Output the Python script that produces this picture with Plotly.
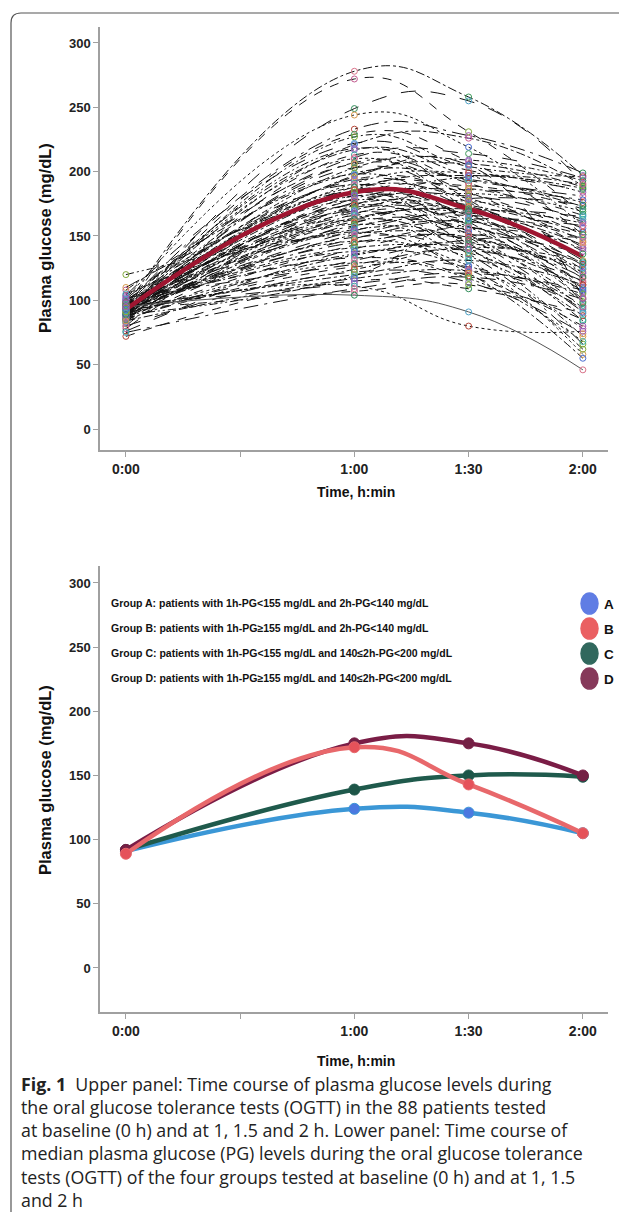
import plotly.graph_objects as go

# The page body has an 8px margin, so the figure is offset by 8px and
# every pixel position below is given in window pixels and shifted back.
OFF = 8
WIN_W, WIN_H = 627, 1212
W, H = WIN_W - OFF, WIN_H

# ---------------- data ----------------
times = [0, 60, 90, 120]
tick_vals = [0, 30, 60, 90, 120]
tick_text = ["0:00", "", "1:00", "1:30", "2:00"]
y_ticks = [0, 50, 100, 150, 200, 250, 300]

# upper panel: 88 patients, plasma glucose (mg/dL) at 0 h, 1 h, 1.5 h, 2 h
glucose_0h = [95, 92, 88, 101, 97, 90, 85, 104, 93, 89, 96, 82, 101, 94, 87, 99, 91, 86, 108, 93,
              90, 95, 84, 97, 92, 88, 103, 80, 94, 90, 96, 86, 110, 91, 93, 89, 98, 85, 92, 100,
              88, 94, 78, 95, 90, 97, 87, 92, 105, 89, 93, 84, 96, 91, 88, 99, 86, 94, 90, 120,
              92, 83, 95, 89, 97, 87, 93, 76, 91, 98, 85, 94, 90, 88, 102, 86, 92, 80, 95, 89,
              84, 72, 96, 91, 75, 93, 95, 100]
glucose_1h = [278, 272, 249, 244, 233, 229, 227, 222, 221, 218, 217, 213, 211, 210, 207, 206, 203, 203, 199, 198,
              197, 194, 193, 191, 190, 188, 188, 186, 186, 184, 184, 182, 181, 181, 179, 178, 178, 176, 175, 174,
              174, 172, 171, 170, 169, 168, 167, 166, 164, 163, 163, 161, 160, 159, 158, 157, 155, 154, 153, 152,
              151, 149, 148, 146, 145, 143, 141, 140, 138, 136, 135, 133, 131, 129, 128, 126, 124, 122, 120, 119,
              117, 115, 113, 111, 109, 107, 104, 196]
glucose_1h30 = [258, 231, 255, 219, 228, 208, 204, 201, 226, 178, 197, 191, 214, 171, 193, 184, 209, 176, 194, 161,
                206, 183, 172, 199, 149, 187, 179, 164, 197, 141, 174, 189, 167, 157, 186, 173, 151, 181, 166, 196,
                144, 169, 159, 183, 136, 162, 177, 152, 171, 139, 168, 154, 179, 131, 157, 166, 146, 169, 121, 149,
                161, 137, 163, 127, 148, 156, 134, 151, 124, 144, 141, 119, 147, 117, 139, 126, 141, 114, 131, 157,
                123, 109, 121, 80, 118, 112, 91, 205]
glucose_2h = [197, 167, 191, 158, 199, 151, 196, 186, 189, 121, 173, 161, 195, 109, 181, 141, 193, 131, 176, 101,
              188, 151, 127, 184, 91, 166, 146, 117, 187, 72, 153, 171, 124, 106, 178, 138, 94, 163, 119, 190,
              84, 148, 112, 169, 66, 129, 156, 107, 160, 93, 143, 114, 174, 58, 128, 151, 99, 165, 55, 122,
              140, 96, 158, 78, 118, 145, 88, 136, 62, 125, 110, 80, 149, 68, 115, 95, 130, 74, 112, 98,
              105, 90, 108, 76, 101, 85, 46, 102]
median_all = [93, 184, 171, 134]

# lower panel: median PG of the four groups
group_names = ["A", "B", "C", "D"]
group_texts = [
    "Group A: patients with 1h-PG&lt;155 mg/dL and 2h-PG&lt;140 mg/dL",
    "Group B: patients with 1h-PG\u2265155 mg/dL and 2h-PG&lt;140 mg/dL",
    "Group C: patients with 1h-PG&lt;155 mg/dL and 140\u22642h-PG&lt;200 mg/dL",
    "Group D: patients with 1h-PG\u2265155 mg/dL and 140\u22642h-PG&lt;200 mg/dL",
]
group_A = [91, 124, 121, 105]
group_B = [89, 172, 143, 105]
group_C = [92, 139, 150, 149]
group_D = [92, 175, 175, 150]

caption = ("<b>Fig. 1</b>  Upper panel: Time course of plasma glucose levels during<br>"
           "the oral glucose tolerance tests (OGTT) in the 88 patients tested<br>"
           "at baseline (0 h) and at 1, 1.5 and 2 h. Lower panel: Time course of<br>"
           "median plasma glucose (PG) levels during the oral glucose tolerance<br>"
           "tests (OGTT) of the four groups tested at baseline (0 h) and at 1, 1.5<br>"
           "and 2 h")

# ---------------- styles ----------------
line_styles = ["dashdot", "dash", "longdash", "dot", "longdashdot", "dash",
               "6px,3px,2px,3px", "longdash", "dashdot", "8px,3px,2px,3px,2px,3px"]
marker_palette = ["#4fa3c7", "#d9738a", "#3f9a5a", "#8a6bbd", "#d69a4f", "#4b6fd1",
                  "#c25a8e", "#7fa83a", "#3fb3a6", "#b5473a", "#9b59b6", "#2e8b57"]
group_line_colors = ["#3b97d6", "#e8686b", "#1f5a4c", "#7a1d46"]
group_marker_colors = ["#4b78e0", "#e5525a", "#1d5548", "#742044"]
legend_circle_colors = ["#4f6fe2", "#e84f52", "#1b584c", "#7a2449"]


def px(x):
    return (x - OFF) / W


def py(y):
    return 1 - (y - OFF) / H


fig = go.Figure()

# ---------- upper panel ----------
patients = list(zip(glucose_0h, glucose_1h, glucose_1h30, glucose_2h))
for i, vals in enumerate(patients):
    dash = "solid" if i == 86 else line_styles[i % len(line_styles)]
    fig.add_trace(go.Scatter(
        x=times, y=list(vals), mode="lines",
        line=dict(color="#111111" if i != 86 else "#555555", width=1.0,
                  dash=dash, shape="spline", smoothing=1.3),
        hoverinfo="skip", showlegend=False, xaxis="x", yaxis="y"))

fig.add_trace(go.Scatter(
    x=times, y=median_all, mode="lines",
    line=dict(color="#9e1530", width=4.5, shape="spline", smoothing=1.3),
    showlegend=False, xaxis="x", yaxis="y"))

mx, my, mc = [], [], []
for i, vals in enumerate(patients):
    for j, (t, v) in enumerate(zip(times, vals)):
        mx.append(t)
        my.append(v)
        mc.append(marker_palette[(i * 5 + j) % len(marker_palette)])
fig.add_trace(go.Scatter(
    x=mx, y=my, mode="markers",
    marker=dict(symbol="circle-open", size=6, color=mc, line=dict(width=1, color=mc)),
    showlegend=False, xaxis="x", yaxis="y"))

# ---------- lower panel ----------
groups = [group_A, group_B, group_C, group_D]
for gi in [0, 2, 3, 1]:
    fig.add_trace(go.Scatter(
        x=times, y=groups[gi], mode="lines+markers",
        line=dict(color=group_line_colors[gi], width=4.5, shape="spline", smoothing=1.3),
        marker=dict(size=11, color=group_marker_colors[gi],
                    line=dict(width=1, color=group_line_colors[gi])),
        showlegend=False, xaxis="x2", yaxis="y2"))

axis_common = dict(
    showline=True, linecolor="#a0a0a0", linewidth=1.5, mirror=False,
    ticks="outside", ticklen=5, tickwidth=1, tickcolor="#a0a0a0",
    showgrid=False, zeroline=False,
    tickfont=dict(family="Arial", size=13, color="#222222", weight="bold"),
)

fig.update_layout(
    width=W, height=H, autosize=False,
    margin=dict(l=0, r=0, t=0, b=0),
    paper_bgcolor="white", plot_bgcolor="white",
    showlegend=False,
    xaxis=dict(domain=[px(100), px(608)], range=[-6.8, 126.6], anchor="y",
               tickvals=tick_vals, ticktext=tick_text, **axis_common),
    yaxis=dict(domain=[py(450), py(27)], range=[-16.3, 312.4], anchor="x",
               tickvals=y_ticks, **axis_common),
    xaxis2=dict(domain=[px(100), px(608)], range=[-6.8, 126.6], anchor="y2",
                tickvals=tick_vals, ticktext=tick_text, **axis_common),
    yaxis2=dict(domain=[py(1012), py(566)], range=[-34.3, 313.2], anchor="x2",
                tickvals=y_ticks, **axis_common),
)
fig.update_xaxes(tickfont=dict(size=14))

ann = []
# axis titles
for yc, yc_t in [(238, 492), (780, 1061)]:
    ann.append(dict(text="<b>Plasma glucose (mg/dL)</b>", x=px(45), y=py(yc),
                    xref="paper", yref="paper", xanchor="center", yanchor="middle",
                    showarrow=False, textangle=-90,
                    font=dict(family="Arial", size=16.5, color="#111111")))
    ann.append(dict(text="<b>Time, h:min</b>", x=px(356), y=py(yc_t),
                    xref="paper", yref="paper", xanchor="center", yanchor="middle",
                    showarrow=False, font=dict(family="Arial", size=14, color="#111111")))

# group legend
legend_y = [603, 628, 653, 678]
shapes = []
for k in range(4):
    ann.append(dict(text="<b>" + group_texts[k] + "</b>", x=px(109), y=py(legend_y[k]),
                    xref="paper", yref="paper", xanchor="left", yanchor="middle", showarrow=False,
                    font=dict(family="Arial", size=10.5, color="#111111")))
    ann.append(dict(text="<b>" + group_names[k] + "</b>", x=px(602), y=py(legend_y[k] + 1),
                    xref="paper", yref="paper", xanchor="left", yanchor="middle", showarrow=False,
                    font=dict(family="Arial", size=13.5, color="#111111")))
    shapes.append(dict(type="circle", xref="paper", yref="paper",
                       x0=px(581), x1=px(598), y0=py(legend_y[k] + 11), y1=py(legend_y[k] - 10),
                       fillcolor=legend_circle_colors[k],
                       line=dict(width=1.5, color=legend_circle_colors[k]),
                       opacity=0.9))

# caption
ann.append(dict(text=caption, x=px(19), y=py(1070), xref="paper", yref="paper",
                xanchor="left", yanchor="top", align="left", showarrow=False,
                font=dict(family="Open Sans", size=17.8, color="#222222")))

# rounded frame
path = (f"M {px(11)},{py(1230)} L {px(11)},{py(23)} "
        f"Q {px(11)},{py(13)} {px(21)},{py(13)} L {px(640)},{py(13)}")
shapes.append(dict(type="path", path=path, xref="paper", yref="paper",
                   line=dict(color="#555555", width=1.2)))

fig.update_layout(annotations=ann, shapes=shapes)

fig.write_html("out.html")
